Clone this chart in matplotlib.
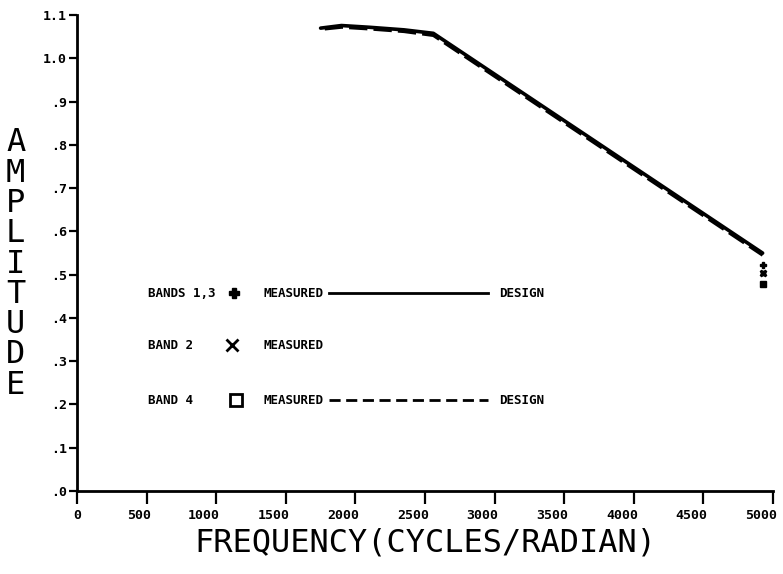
import matplotlib
matplotlib.use("Agg")
import matplotlib.pyplot as plt
import matplotlib.transforms as mtransforms

# design curves (frequency in cycles/radian, amplitude)
design13_freq = [1750, 1900, 2100, 2350, 2560, 4925]
design13_amp = [1.070, 1.076, 1.072, 1.066, 1.058, 0.550]
design4_freq = [1780, 1900, 2100, 2350, 2560, 4925]
design4_amp = [1.068, 1.072, 1.068, 1.062, 1.053, 0.545]

# measured points
meas13_freq = [4925]
meas13_amp = [0.522]
meas2_freq = [4925]
meas2_amp = [0.504]
meas4_freq = [4925]
meas4_amp = [0.478]

x_ticks = [0, 500, 1000, 1500, 2000, 2500, 3000, 3500, 4000, 4500, 5000]
y_ticks = [0.0, 0.1, 0.2, 0.3, 0.4, 0.5, 0.6, 0.7, 0.8, 0.9, 1.0, 1.1]
y_tick_labels = [".0", ".1", ".2", ".3", ".4", ".5", ".6", ".7", ".8", ".9", "1.0", "1.1"]

tick_font = dict(family="DejaVu Sans Mono", weight="bold", size=9.5)
label_font = dict(family="DejaVu Sans Mono", size=23)

fig = plt.figure(figsize=(7.83, 5.74), dpi=100)
ax = fig.add_axes([0.0983, 0.1446, 0.889, 0.829])

ax.plot(design13_freq, design13_amp, color="black", linewidth=2.6, solid_capstyle="round")
ax.plot(design4_freq, design4_amp, color="black", linewidth=2.2, linestyle=(0, (6, 2)))
ax.plot(meas13_freq, meas13_amp, linestyle="none", marker="P", color="black", markersize=5)
ax.plot(meas2_freq, meas2_amp, linestyle="none", marker="X", color="black", markersize=5)
ax.plot(meas4_freq, meas4_amp, linestyle="none", marker="s", color="black", markersize=5)

ax.set_xlim(0, 5000)
ax.set_ylim(0, 1.1)
ax.set_xticks(x_ticks)
ax.set_xticklabels([str(v) for v in x_ticks], ha="right", **tick_font)
ax.set_yticks(y_ticks)
ax.set_yticklabels(y_tick_labels, **tick_font)
ax.tick_params(axis="x", direction="out", length=9, width=1.6, pad=4)
ax.tick_params(axis="y", direction="out", length=6, width=1.6, pad=1)
ax.spines[["top", "right"]].set_visible(False)
ax.spines[["left", "bottom"]].set_linewidth(2)

# the old plotter put the x labels just left of their ticks
shift = mtransforms.ScaledTranslation(4 / 100, 0, fig.dpi_scale_trans)
for lbl in ax.get_xticklabels():
    lbl.set_transform(lbl.get_transform() + shift)

# hand-drawn key inside the plot
leg_font = dict(family="DejaVu Sans Mono", weight="bold", size=9, va="center")
rows = [0.416, 0.306, 0.191]
tr = ax.transAxes
ax.text(0.102, rows[0], "BANDS 1,3", transform=tr, **leg_font)
ax.plot([0.226], [rows[0]], transform=tr, marker="P", color="black", markersize=7)
ax.text(0.268, rows[0], "MEASURED", transform=tr, **leg_font)
ax.plot([0.362, 0.590], [rows[0], rows[0]], transform=tr, color="black", linewidth=2)
ax.text(0.607, rows[0], "DESIGN", transform=tr, **leg_font)

ax.text(0.102, rows[1], "BAND 2", transform=tr, **leg_font)
ax.plot([0.223], [rows[1]], transform=tr, marker="x", color="black", markersize=8,
        markeredgewidth=2)
ax.text(0.268, rows[1], "MEASURED", transform=tr, **leg_font)

ax.text(0.102, rows[2], "BAND 4", transform=tr, **leg_font)
ax.plot([0.228], [rows[2]], transform=tr, marker="s", color="black", markersize=8,
        markerfacecolor="white", markeredgewidth=2)
ax.text(0.268, rows[2], "MEASURED", transform=tr, **leg_font)
ax.plot([0.362, 0.590], [rows[2], rows[2]], transform=tr, color="black", linewidth=2,
        linestyle=(0, (4, 2)))
ax.text(0.607, rows[2], "DESIGN", transform=tr, **leg_font)

ax.set_xlabel("FREQUENCY(CYCLES/RADIAN)", labelpad=4, **label_font)
fig.text(0.020, 0.54, "\n".join("AMPLITUDE"), ha="center", va="center",
         linespacing=0.97, **label_font)

fig.savefig("out.png", dpi=100)
